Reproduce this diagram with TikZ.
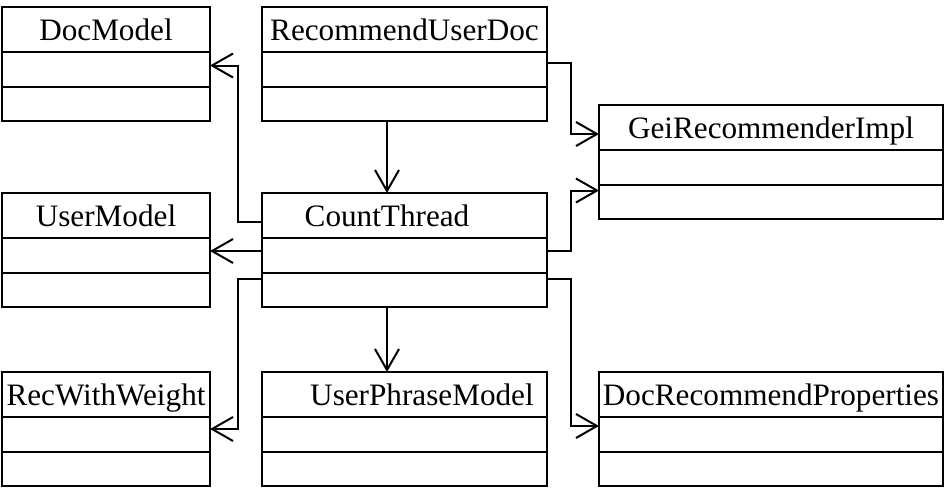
\documentclass[tikz,border=0pt]{standalone}
\usepackage{fontspec}
\setmainfont{Liberation Serif}
\usetikzlibrary{positioning, arrows.meta}

\begin{document}
\begin{tikzpicture}[
    x=1pt, y=-1pt,
    cls/.style={rectangle, draw, line width=2.2pt, outer sep=0pt, inner sep=0pt},
    title/.style={cls, minimum height=45pt, text height=21pt, text depth=0pt, font=\fontsize{31.2}{36}\selectfont},
    attr/.style={cls, minimum height=35pt},
    ops/.style={cls, minimum height=34pt},
    narrow/.style={minimum width=208pt},
    mid/.style={minimum width=285pt},
    broad/.style={minimum width=344pt},
    arrow/.style={-{Straight Barb[length=21pt, width=24pt]}, line width=2pt},
]
\useasboundingbox (0,0) rectangle (946,488);

%% NODES
    % top row
    \node[title, narrow, anchor=north west] (doc) at (2,7) {DocModel};
    \node[attr, narrow, below=0pt of doc] (doc_attr) {};
    \node[ops, narrow, below=0pt of doc_attr] (doc_ops) {};

    \node[title, mid, right=52pt of doc] (rud) {RecommendUserDoc};
    \node[attr, mid, below=0pt of rud] (rud_attr) {};
    \node[ops, mid, below=0pt of rud_attr] (rud_ops) {};

    \node[title, broad, right=52pt of rud, yshift=-98pt] (gei) {GeiRecommenderImpl};
    \node[attr, broad, below=0pt of gei] (gei_attr) {};
    \node[ops, broad, below=0pt of gei_attr] (gei_ops) {};

    % middle row
    \node[title, mid, below=72pt of rud_ops] (ct) {CountThread\hspace*{35pt}\mbox{}};
    \node[attr, mid, below=0pt of ct] (ct_attr) {};
    \node[ops, mid, below=0pt of ct_attr] (ct_ops) {};

    \node[title, narrow, left=52pt of ct] (user) {UserModel};
    \node[attr, narrow, below=0pt of user] (user_attr) {};
    \node[ops, narrow, below=0pt of user_attr] (user_ops) {};

    % bottom row
    \node[title, mid, below=65pt of ct_ops] (upm) {\hspace{35pt}UserPhraseModel};
    \node[attr, mid, below=0pt of upm] (upm_attr) {};
    \node[ops, mid, below=0pt of upm_attr] (upm_ops) {};

    \node[title, narrow, left=52pt of upm] (rww) {RecWithWeight};
    \node[attr, narrow, below=0pt of rww] (rww_attr) {};
    \node[ops, narrow, below=0pt of rww_attr] (rww_ops) {};

    \node[title, broad, right=52pt of upm] (drp) {DocRecommendProperties};
    \node[attr, broad, below=0pt of drp] (drp_attr) {};
    \node[ops, broad, below=0pt of drp_attr] (drp_ops) {};

%% CONNECTORS
    \draw[arrow] ([yshift=-6.5pt]ct.west) -- ++(-24,0) |- ([yshift=4pt]doc_attr.east);
    \draw[arrow] ([yshift=4.5pt]ct_attr.west) -- ([yshift=4.5pt]user_attr.east);
    \draw[arrow] ([yshift=11pt]ct_ops.west) -- ++(-24,0) |- ([yshift=5.5pt]rww_attr.east);

    \draw[arrow] ([xshift=-17.5pt]rud_ops.south) -- ([xshift=-17.5pt]ct.north);
    \draw[arrow] ([xshift=-17.5pt]ct_ops.south) -- ([xshift=-17.5pt]upm.north);

    \draw[arrow] ([yshift=6.5pt]rud_attr.east) -- ++(24,0) |- ([yshift=-6.5pt]gei.west);
    \draw[arrow] ([yshift=4.5pt]ct_attr.east) -- ++(24,0) |- ([yshift=11.5pt]gei_ops.west);
    \draw[arrow] ([yshift=11pt]ct_ops.east) -- ++(24,0) |- ([yshift=8.5pt]drp_attr.west);

\end{tikzpicture}
\end{document}
